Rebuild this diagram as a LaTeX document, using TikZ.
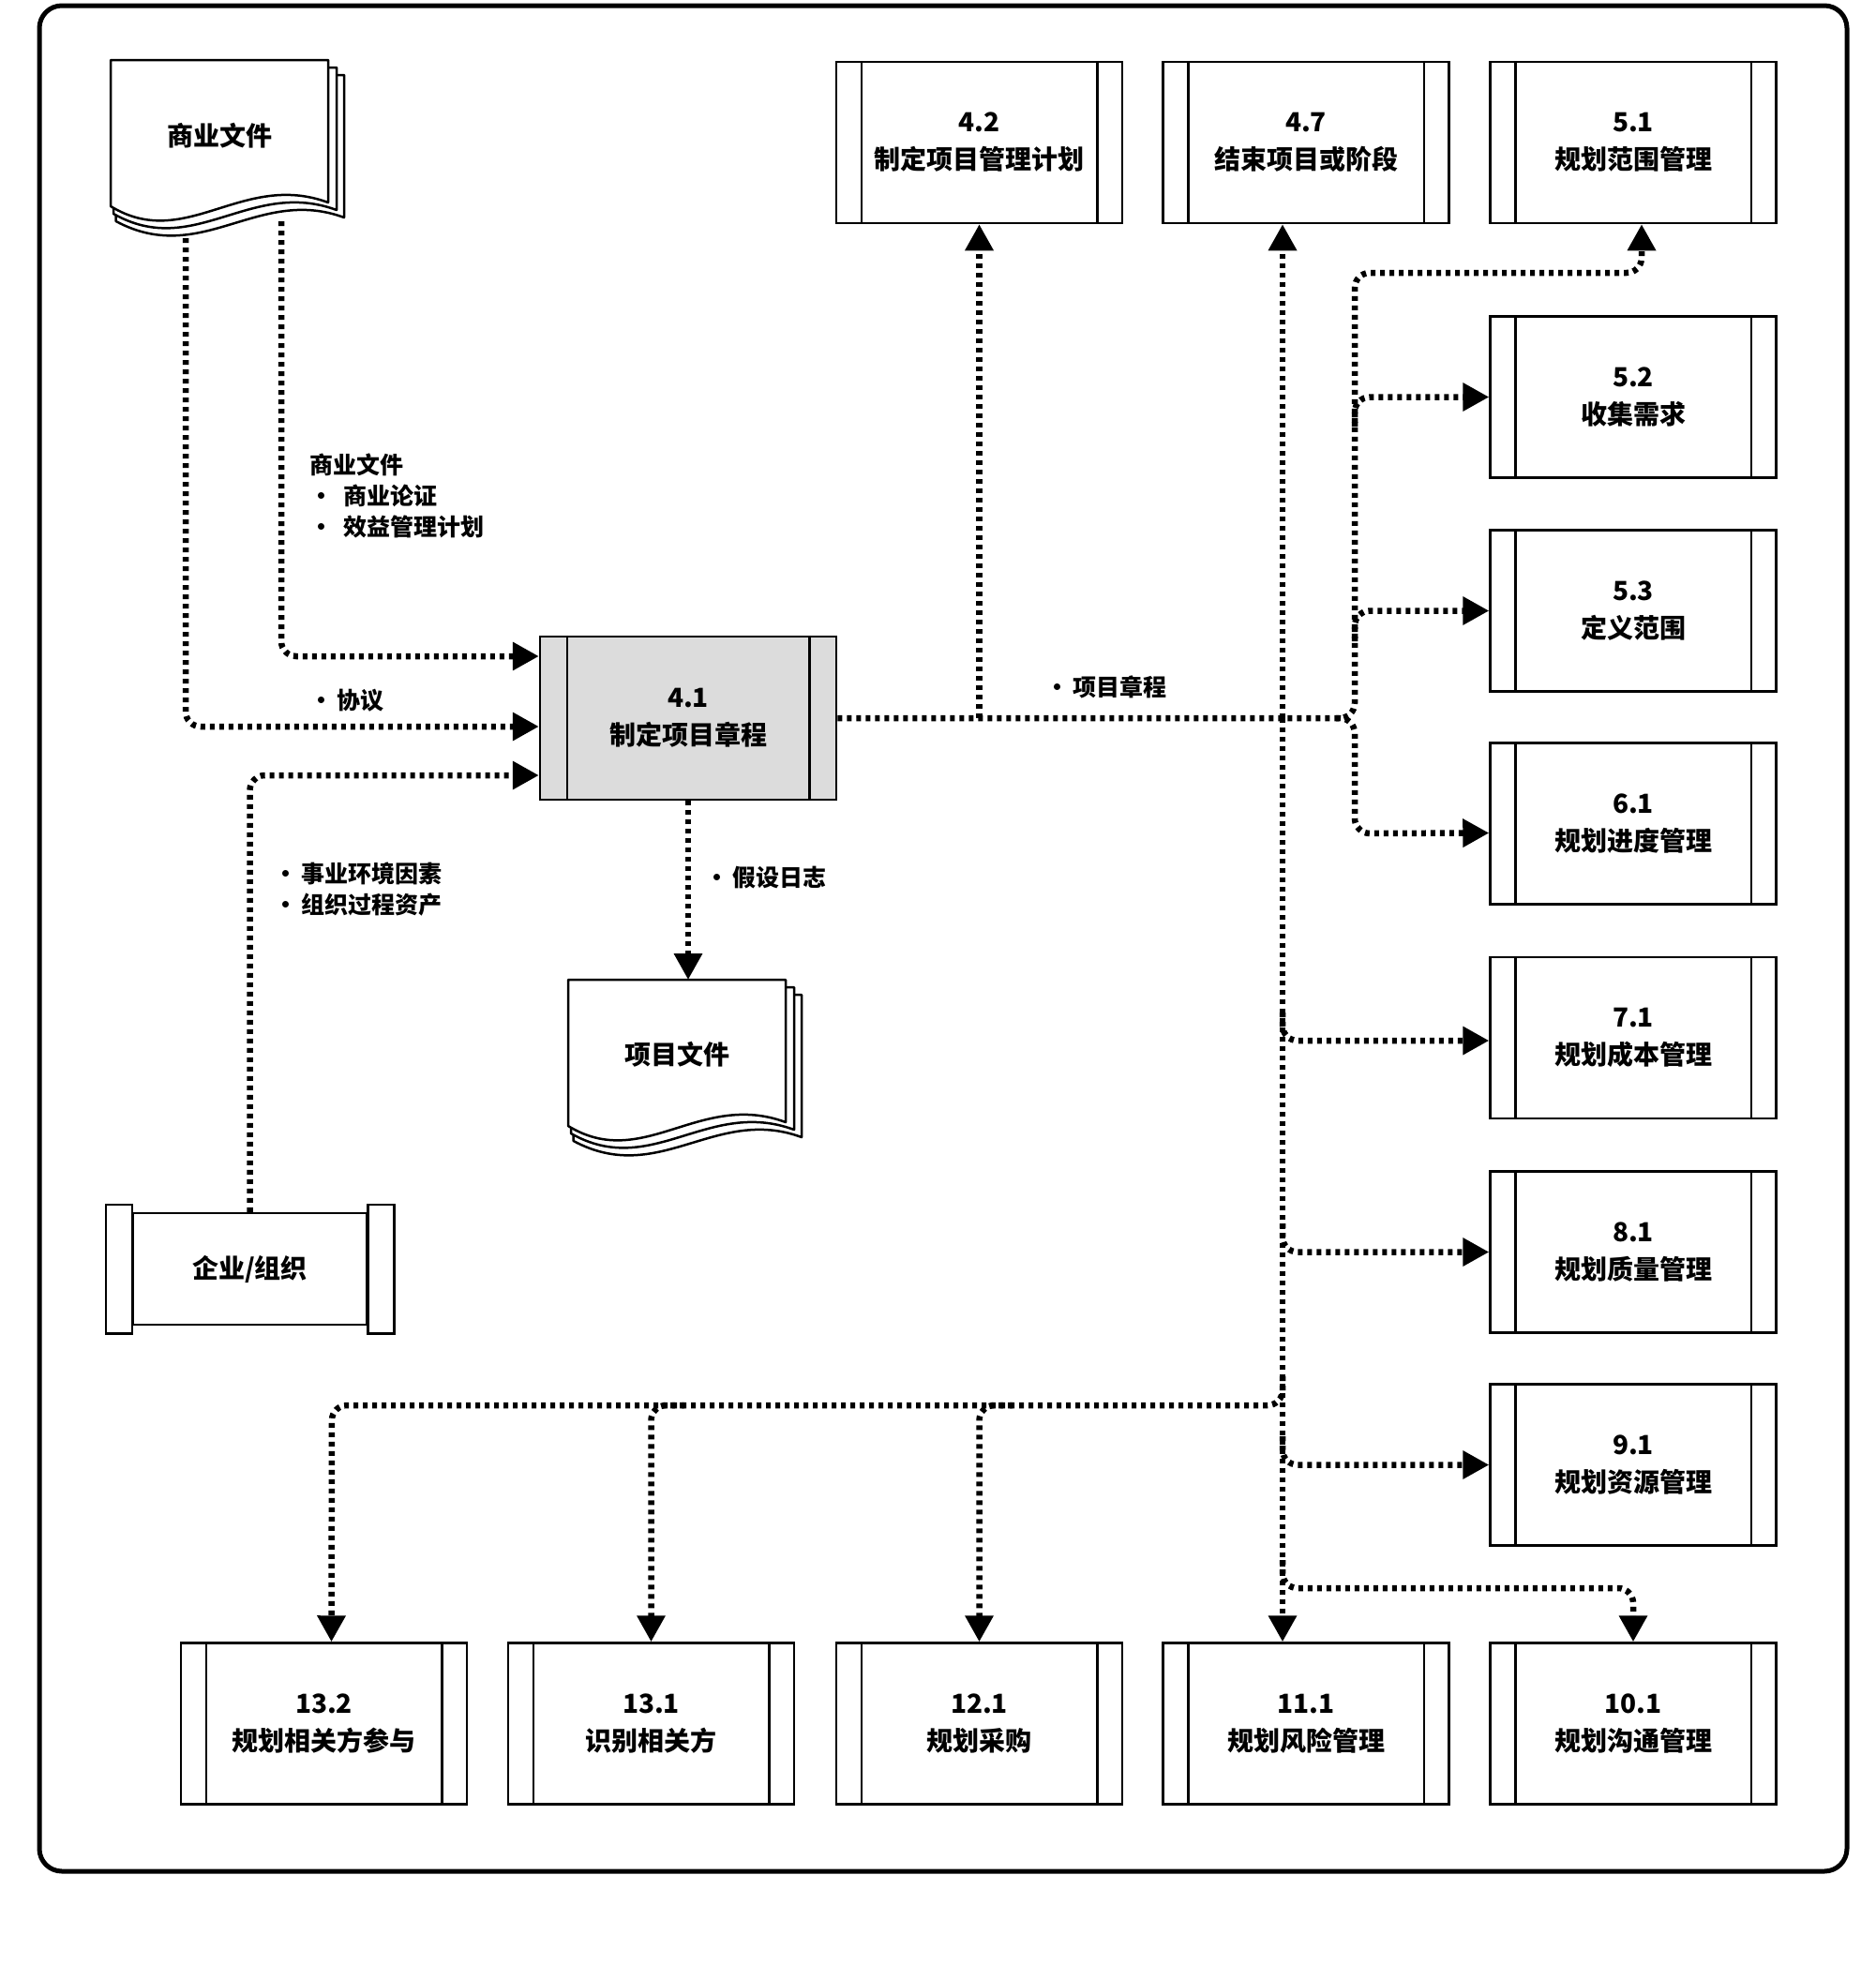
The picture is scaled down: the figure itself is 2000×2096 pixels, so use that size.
\documentclass[tikz,border=0pt]{standalone}
\usepackage{fontspec}
\setmainfont{Noto Sans CJK SC}
\usetikzlibrary{arrows.meta}
\tikzset{
  proc/.style={draw, line width=2.5pt, minimum width=305pt, minimum height=172pt, inner sep=0pt,
    align=center, fill=white, font=\fontsize{28}{40}\selectfont\bfseries},
  flow/.style={line width=6.5pt, dash pattern=on 5pt off 5pt, rounded corners=16pt},
  tip/.style={-{Triangle[length=28pt,width=29pt]}},
  lbl/.style={font=\fontsize{25}{33}\selectfont\bfseries, inner sep=0pt, align=left},
  docline/.style={line width=2.5pt, fill=white, line join=round},
  doctext/.style={minimum width=232pt, minimum height=160pt, inner sep=0pt, anchor=north west,
    font=\fontsize{28}{34}\selectfont\bfseries},
  bar/.style={line width=2.5pt}
}
\newcommand\pbox[5]{%
  \node[proc,#5] (#1) at (#2) {#3};
  \draw[bar] ([xshift=#4]#1.north west) -- ([xshift=#4]#1.south west)
             ([xshift=-#4]#1.north east) -- ([xshift=-#4]#1.south east);}
\newcommand\docshape[2]{%
  \foreach \d/\e in {17/16,9/8,0/0}{%
    \draw[docline] ({#1+\d/3},{#2+\e}) -- ({#1+\d+232},{#2+\e}) -- ({#1+\d+232},{#2+\e+152})
      .. controls ({#1+\d+140},{#2+\e+118}) and ({#1+\d+80},{#2+\e+205}) .. ({#1+\d/3},{#2+\e+156}) -- cycle;}}
\begin{document}
\begin{tikzpicture}[x=1pt,y=-1pt]
\useasboundingbox[fill=white] (0,0) rectangle (2000,2096);
\draw[line width=5pt, rounded corners=24pt] (42,6) rectangle (1970,1996);

% documents
\docshape{118}{64}
\node[doctext] (biz) at (118,64) {商业文件};
\docshape{606}{1045}
\node[doctext] (docp) at (606,1045) {项目文件};

% central process
\pbox{p41}{734,766}{4.1\\制定项目章程}{30pt}{minimum width=316pt, minimum height=174pt, fill={rgb,255:red,220;green,220;blue,220}}

% top row
\pbox{p42}{1044.5,152}{4.2\\制定项目管理计划}{28pt}{}
\pbox{p47}{1393,152}{4.7\\结束项目或阶段}{28pt}{}
\pbox{p51}{1742,152}{5.1\\规划范围管理}{28pt}{}
% right column
\pbox{p52}{1742,423.5}{5.2\\收集需求}{28pt}{}
\pbox{p53}{1742,651.5}{5.3\\定义范围}{28pt}{}
\pbox{p61}{1742,878.5}{6.1\\规划进度管理}{28pt}{}
\pbox{p71}{1742,1107}{7.1\\规划成本管理}{28pt}{}
\pbox{p81}{1742,1335.5}{8.1\\规划质量管理}{28pt}{}
\pbox{p91}{1742,1562.5}{9.1\\规划资源管理}{28pt}{}
% bottom row
\pbox{p132}{345.5,1838.5}{13.2\\规划相关方参与}{28pt}{}
\pbox{p131}{694.5,1838.5}{13.1\\识别相关方}{28pt}{}
\pbox{p121}{1044.5,1838.5}{12.1\\规划采购}{28pt}{}
\pbox{p111}{1393,1838.5}{11.1\\规划风险管理}{28pt}{}
\pbox{p101}{1742,1838.5}{10.1\\规划沟通管理}{28pt}{}

% enterprise / organization
\node[draw, line width=2.5pt, minimum width=249pt, minimum height=119pt, inner sep=0pt,
  font=\fontsize{28}{34}\selectfont\bfseries] (org) at (266.5,1353.5) {企业/组织};
\draw[bar] ([xshift=-28pt,yshift=8pt]org.north west) rectangle ([yshift=-8pt]org.south west);
\draw[bar] ([yshift=8pt]org.north east) rectangle ([xshift=28pt,yshift=-8pt]org.south east);

% coordinates
\coordinate (bizL) at (198,254);
\coordinate (bizR) at (300,236);
\coordinate (jA) at (1368,766);
\coordinate (jB) at (1445,766);
\coordinate (tA) at (1368,0);
\coordinate (tB) at (1445,0);

% inputs
\draw[flow,tip] (bizR) |- ([yshift=66pt]p41.west);
\draw[flow,tip] (bizL) |- ([yshift=-9pt]p41.west);
\draw[flow,tip] (org.north) |- ([yshift=-61pt]p41.west);
\draw[flow,tip] (p41.south) -- (p41.south |- docp.north);

% outputs
\draw[flow,tip] (p41.east) -- (jB) -- (1445,291) -- (1751,291) -- ([xshift=9pt]p51.south);
\draw[flow,tip] (p42.south |- p41.east) -- (p42.south);
\draw[flow,tip] (jA) -- ([xshift=-25pt]p47.south);
\draw[flow,tip] (jA) -- ([xshift=-25pt]p111.north);
\draw[flow,tip] (1445,455) -- (tB |- p52.west) -- (p52.west);
\draw[flow,tip] (1445,684) -- (tB |- p53.west) -- (p53.west);
\draw[flow,tip] (1425,766) -- (jB) -- (1445,889) -- ([yshift=-10pt]p61.west);
\draw[flow,tip] (1368,1080) -- (1368,1110) -- (p71.west |- 0,1110);
\draw[flow,tip] (1368,1305) -- (tA |- p81.west) -- (p81.west);
\draw[flow,tip] (1368,1532) -- (tA |- p91.west) -- (p91.west);
\draw[flow,tip] (1368,1664) -- (1368,1694) -- (1742,1694) -- (p101.north);
\draw[flow,tip] (1368,1468) -- (1368,1499) -- (354,1499) -- ([xshift=8pt]p132.north);
\draw[flow,tip] (730,1499) -- (p131.north |- 0,1499) -- (p131.north);
\draw[flow,tip] (1080,1499) -- (p121.north |- 0,1499) -- (p121.north);

% labels
\node[lbl, anchor=north west] (lbiz) at (330,484) {商业文件\\\textbullet\ \ 商业论证\\\textbullet\ \ 效益管理计划};
\node[lbl, anchor=west] (lagr) at (330,747) {\textbullet\,协议};
\node[lbl, anchor=north west] (lorg) at (292,920) {\textbullet\,事业环境因素\\\textbullet\,组织过程资产};
\node[lbl, anchor=west] (lass) at (752,936) {\textbullet\,假设日志};
\node[lbl, anchor=west] (lchr) at (1115,733) {\textbullet\,项目章程};
\end{tikzpicture}
\end{document}
